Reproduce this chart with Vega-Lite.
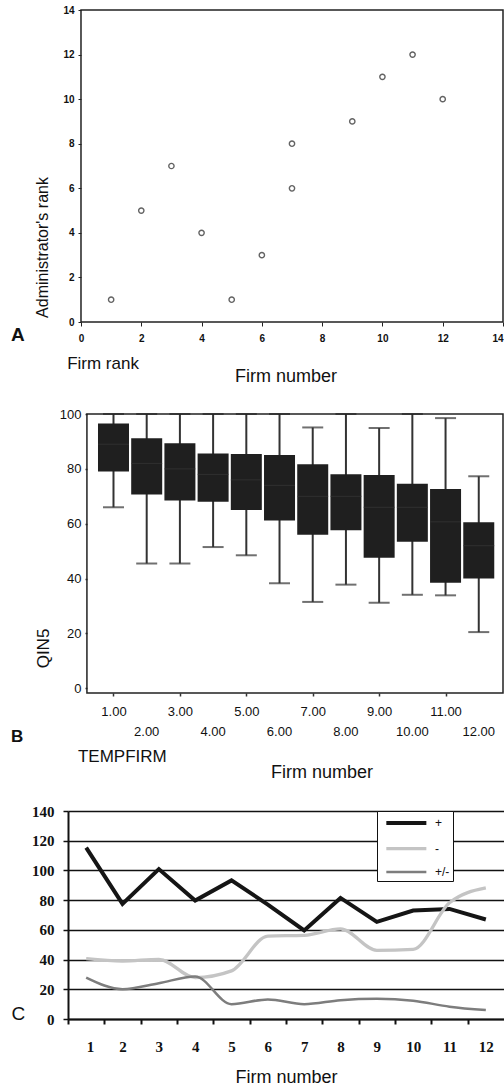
{
  "$schema": "https://vega.github.io/schema/vega-lite/v6.json",
  "padding": {"left": 10, "top": 5, "right": 0, "bottom": 0},
  "columns": 1,
  "align": "none",
  "spacing": 21,
  "resolve": {
    "scale": {"color": "independent", "strokeWidth": "independent"},
    "legend": {"color": "independent", "strokeWidth": "independent"}
  },
  "config": {
    "font": "Liberation Sans",
    "view": {"stroke": null},
    "text": {"font": "Liberation Sans", "color": "#111"}
  },
  "datasets": {
    "ranks": [
      {"firm_rank": 1, "admin_rank": 1},
      {"firm_rank": 2, "admin_rank": 5},
      {"firm_rank": 3, "admin_rank": 7},
      {"firm_rank": 4, "admin_rank": 4},
      {"firm_rank": 5, "admin_rank": 1},
      {"firm_rank": 6, "admin_rank": 3},
      {"firm_rank": 7, "admin_rank": 8},
      {"firm_rank": 7, "admin_rank": 6},
      {"firm_rank": 9, "admin_rank": 9},
      {"firm_rank": 10, "admin_rank": 11},
      {"firm_rank": 11, "admin_rank": 12},
      {"firm_rank": 12, "admin_rank": 10}
    ],
    "boxes": [
      {"firm": 1, "lo": 66, "q1": 79, "med": 89, "q3": 96.5, "hi": 100},
      {"firm": 2, "lo": 45.5, "q1": 70.7, "med": 82, "q3": 91.2, "hi": 100},
      {"firm": 3, "lo": 45.5, "q1": 68.5, "med": 80, "q3": 89.3, "hi": 100},
      {"firm": 4, "lo": 51.5, "q1": 68, "med": 78, "q3": 85.6, "hi": 100},
      {"firm": 5, "lo": 48.5, "q1": 65, "med": 76, "q3": 85.4, "hi": 100},
      {"firm": 6, "lo": 38.3, "q1": 61.2, "med": 74, "q3": 85.1, "hi": 100},
      {"firm": 7, "lo": 31.5, "q1": 56, "med": 70, "q3": 81.7, "hi": 95.1},
      {"firm": 8, "lo": 37.8, "q1": 57.6, "med": 70, "q3": 78, "hi": 100},
      {"firm": 9, "lo": 31.2, "q1": 47.6, "med": 66, "q3": 77.8, "hi": 94.9},
      {"firm": 10, "lo": 34.1, "q1": 53.4, "med": 66, "q3": 74.6, "hi": 100},
      {"firm": 11, "lo": 33.9, "q1": 38.5, "med": 60.7, "q3": 72.7, "hi": 98.5},
      {"firm": 12, "lo": 20.5, "q1": 40, "med": 52, "q3": 60.5, "hi": 77.3}
    ],
    "lines": [
      {"firm": 1, "series": "+", "value": 115.4},
      {"firm": 2, "series": "+", "value": 77.5},
      {"firm": 3, "series": "+", "value": 100.9},
      {"firm": 4, "series": "+", "value": 79.7},
      {"firm": 5, "series": "+", "value": 93.3},
      {"firm": 6, "series": "+", "value": 77},
      {"firm": 7, "series": "+", "value": 59.6},
      {"firm": 8, "series": "+", "value": 81.5},
      {"firm": 9, "series": "+", "value": 65.4},
      {"firm": 10, "series": "+", "value": 73},
      {"firm": 11, "series": "+", "value": 74.1},
      {"firm": 12, "series": "+", "value": 67},
      {"firm": 1, "series": "-", "value": 40.6},
      {"firm": 2, "series": "-", "value": 39},
      {"firm": 3, "series": "-", "value": 40.2},
      {"firm": 4, "series": "-", "value": 27.9},
      {"firm": 5, "series": "-", "value": 32.4},
      {"firm": 6, "series": "-", "value": 55.8},
      {"firm": 7, "series": "-", "value": 56.3},
      {"firm": 8, "series": "-", "value": 60.7},
      {"firm": 9, "series": "-", "value": 46.2},
      {"firm": 10, "series": "-", "value": 46.9},
      {"firm": 11, "series": "-", "value": 78.2},
      {"firm": 12, "series": "-", "value": 88.2},
      {"firm": 1, "series": "+/-", "value": 27.9},
      {"firm": 2, "series": "+/-", "value": 20.1},
      {"firm": 3, "series": "+/-", "value": 24.1},
      {"firm": 4, "series": "+/-", "value": 28.6},
      {"firm": 5, "series": "+/-", "value": 10},
      {"firm": 6, "series": "+/-", "value": 13.2},
      {"firm": 7, "series": "+/-", "value": 10},
      {"firm": 8, "series": "+/-", "value": 12.7},
      {"firm": 9, "series": "+/-", "value": 13.6},
      {"firm": 10, "series": "+/-", "value": 12.3},
      {"firm": 11, "series": "+/-", "value": 8.3},
      {"firm": 12, "series": "+/-", "value": 6}
    ]
  },
  "concat": [
    {
      "width": 435,
      "height": 312,
      "layer": [
        {
          "data": {"name": "ranks"},
          "mark": {"type": "point", "shape": "circle", "filled": false, "size": 28, "stroke": "#222", "strokeWidth": 1.4},
          "encoding": {
            "x": {
              "field": "firm_rank", "type": "quantitative",
              "scale": {"domain": [-0.431, 14], "nice": false, "zero": false, "padding": 0},
              "axis": {
                "values": [0, 2, 4, 6, 8, 10, 12, 14], "title": null, "domain": false, "grid": false,
                "tickSize": 4, "tickColor": "#222", "labelFontSize": 10, "labelFontWeight": "bold",
                "labelColor": "#111", "labelPadding": 7, "labelOverlap": false,
                "labelAlign": {"condition": {"test": "datum.value == 14", "value": "right"}, "value": "center"}
              }
            },
            "y": {
              "field": "admin_rank", "type": "quantitative",
              "scale": {"domain": [0, 14], "nice": false, "zero": false, "padding": 0},
              "axis": {
                "values": [0, 2, 4, 6, 8, 10, 12, 14], "domain": false, "grid": false, "offset": -13,
                "tickSize": 3, "tickColor": "#222", "labelFontSize": 10, "labelFontWeight": "bold",
                "labelColor": "#111", "labelPadding": 4,
                "title": "Administrator's rank", "titleFontSize": 16, "titleFontWeight": "normal",
                "titleColor": "#111", "titleAngle": -90, "titleX": -39, "titleY": 237, "titleAlign": "center", "titleBaseline": "middle"
              }
            }
          }
        },
        {
          "data": {"values": [{}]},
          "mark": {"type": "rect", "filled": false, "stroke": "#222", "strokeWidth": 1.5},
          "encoding": {"x": {"datum": 0}, "x2": {"datum": 14}, "y": {"datum": 0}, "y2": {"datum": 14}}
        },
        {
          "data": {"values": [{}]},
          "mark": {"type": "text", "text": "A", "fontSize": 19, "fontWeight": "bold", "align": "left", "baseline": "middle"},
          "encoding": {"x": {"datum": -2.32}, "y": {"datum": -0.58}}
        },
        {
          "data": {"values": [{}]},
          "mark": {"type": "text", "text": "Firm rank", "fontSize": 17, "align": "left", "baseline": "middle"},
          "encoding": {"x": {"datum": -0.46}, "y": {"datum": -1.88}}
        },
        {
          "data": {"values": [{}]},
          "mark": {"type": "text", "text": "Firm number", "fontSize": 18, "align": "center", "baseline": "middle"},
          "encoding": {"x": {"datum": 6.8}, "y": {"datum": -2.47}}
        }
      ]
    },
    {
      "width": 435,
      "height": 279,
      "layer": [
        {
          "data": {"name": "boxes"},
          "encoding": {
            "x": {
              "field": "firm", "type": "quantitative",
              "scale": {"domain": [-0.37, 12.73], "nice": false, "zero": false, "padding": 0},
              "axis": {
                "values": [1, 2, 3, 4, 5, 6, 7, 8, 9, 10, 11, 12],
                "labelExpr": "datum.value % 2 == 0 ? '' : format(datum.value, '.2f')",
                "title": null, "domain": false, "grid": false,
                "tickSize": 3, "tickColor": "#333", "tickWidth": 1.5,
                "labelFontSize": 13, "labelColor": "#111", "labelOverlap": false, "labelPadding": 9
              }
            },
            "y": {
              "field": "lo", "type": "quantitative",
              "scale": {"domain": [-1.7, 100], "nice": false, "zero": false, "padding": 0},
              "axis": {
                "values": [0, 20, 40, 60, 80, 100], "domain": false, "grid": false, "offset": -19,
                "tickSize": 2, "tickColor": "#333", "tickWidth": 1.5, "labelFontSize": 13, "labelColor": "#111", "labelPadding": 4,
                "labelOverlap": false,
                "title": "QIN5", "titleFontSize": 17, "titleFontWeight": "normal", "titleColor": "#111",
                "titleAngle": -90, "titleX": -44, "titleY": 234, "titleAlign": "center", "titleBaseline": "middle"
              }
            }
          },
          "layer": [
            {
              "mark": {"type": "rule", "color": "#333", "strokeWidth": 2},
              "encoding": {"y2": {"field": "hi"}}
            },
            {
              "mark": {"type": "bar", "width": 31, "color": "#1f1f1f"},
              "encoding": {"y": {"field": "q1", "type": "quantitative"}, "y2": {"field": "q3"}}
            },
            {
              "mark": {"type": "tick", "orient": "horizontal", "size": 31, "thickness": 1, "color": "#383838"},
              "encoding": {"y": {"field": "med", "type": "quantitative"}}
            },
            {
              "mark": {"type": "tick", "orient": "horizontal", "size": 21, "thickness": 2, "color": "#333"}
            },
            {
              "mark": {"type": "tick", "orient": "horizontal", "size": 21, "thickness": 2, "color": "#333"},
              "encoding": {"y": {"field": "hi", "type": "quantitative"}}
            }
          ]
        },
        {
          "data": {"name": "boxes"},
          "transform": [{"filter": "datum.firm % 2 == 0"}],
          "mark": {"type": "text", "fontSize": 13, "align": "center", "baseline": "middle", "color": "#111"},
          "encoding": {
            "x": {"field": "firm", "type": "quantitative"},
            "y": {"datum": -15.75},
            "text": {"field": "firm", "type": "quantitative", "format": ".2f"}
          }
        },
        {
          "data": {"values": [{}]},
          "mark": {"type": "rect", "filled": false, "stroke": "#222", "strokeWidth": 1.5},
          "encoding": {"x": {"datum": 0.2}, "x2": {"datum": 12.73}, "y": {"datum": -1.7}, "y2": {"datum": 100}}
        },
        {
          "data": {"values": [{}]},
          "mark": {"type": "text", "text": "B", "fontSize": 17, "fontWeight": "bold", "align": "left", "baseline": "middle"},
          "encoding": {"x": {"datum": -2.09}, "y": {"datum": -17.6}}
        },
        {
          "data": {"values": [{}]},
          "mark": {"type": "text", "text": "TEMPFIRM", "fontSize": 17, "align": "left", "baseline": "middle"},
          "encoding": {"x": {"datum": -0.07}, "y": {"datum": -24.9}}
        },
        {
          "data": {"values": [{}]},
          "mark": {"type": "text", "text": "Firm number", "fontSize": 18, "align": "center", "baseline": "middle"},
          "encoding": {"x": {"datum": 7.28}, "y": {"datum": -31.0}}
        }
      ]
    },
    {
      "width": 436,
      "height": 208,
      "data": {"name": "lines"},
      "encoding": {
        "x": {
          "field": "firm", "type": "quantitative",
          "scale": {"domain": [0.5, 12.5], "nice": false, "zero": false},
          "axis": {
            "values": [0.5, 1.5, 2.5, 3.5, 4.5, 5.5, 6.5, 7.5, 8.5, 9.5, 10.5, 11.5],
            "labelExpr": "format(datum.value + 0.5, 'd')",
            "labelOffset": 18.17, "tickSize": 5, "tickColor": "#111", "tickWidth": 2,
            "domainColor": "#111", "domainWidth": 2, "grid": false,
            "labelFont": "Liberation Serif", "labelFontSize": 15, "labelFontWeight": "bold", "labelColor": "#111",
            "labelPadding": 15, "labelOverlap": false,
            "title": "Firm number", "titleFont": "Liberation Sans", "titleFontSize": 18, "titleFontWeight": "normal",
            "titleColor": "#111", "titlePadding": 14
          }
        },
        "y": {
          "field": "value", "type": "quantitative",
          "scale": {"domain": [0, 140], "nice": false, "zero": false},
          "axis": {
            "values": [0, 20, 40, 60, 80, 100, 120, 140],
            "grid": true, "gridColor": "#111", "gridWidth": 1.5,
            "domainColor": "#111", "domainWidth": 2, "tickSize": 5, "tickColor": "#111", "tickWidth": 1.5,
            "labelFont": "Liberation Serif", "labelFontSize": 15, "labelFontWeight": "bold", "labelColor": "#111",
            "labelPadding": 9, "labelOverlap": false,
            "title": "C", "titleFont": "Liberation Sans", "titleFontSize": 19, "titleFontWeight": "normal", "titleColor": "#111",
            "titleAngle": 0, "titleX": -57, "titleY": 202, "titleAlign": "left", "titleBaseline": "middle"
          }
        },
        "color": {
          "field": "series", "type": "nominal",
          "scale": {"domain": ["+", "-", "+/-"], "range": ["#151515", "#c4c4c4", "#7d7d7d"]},
          "legend": {
            "orient": "none", "legendX": 309, "legendY": 0, "title": null,
            "fillColor": "white", "strokeColor": "#111", "padding": 3,
            "symbolType": "M-1,0H5", "symbolSize": 178, "symbolOffset": 4,
            "labelOffset": 33, "labelFontSize": 12, "labelColor": "#111", "rowPadding": 9
          }
        },
        "strokeWidth": {
          "field": "series", "type": "nominal",
          "scale": {"domain": ["+", "-", "+/-"], "range": [4, 2.5, 4]},
          "legend": null
        }
      },
      "layer": [
        {
          "transform": [{"filter": "datum.series == '+'"}],
          "mark": {"type": "line", "interpolate": "linear"}
        },
        {
          "transform": [{"filter": "datum.series != '+'"}],
          "mark": {"type": "line", "interpolate": "monotone"}
        }
      ]
    }
  ]
}
